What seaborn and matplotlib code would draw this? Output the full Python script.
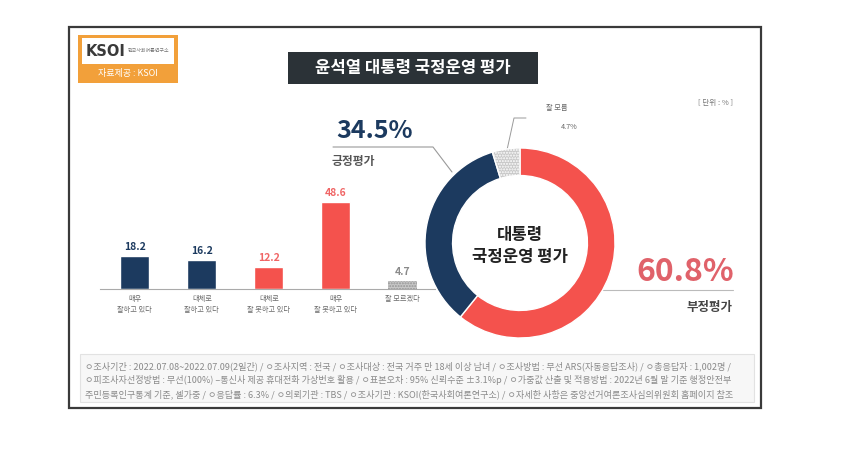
import matplotlib
matplotlib.use("Agg")
import matplotlib.pyplot as plt
import seaborn as sns
import pandas as pd
from matplotlib.patches import Rectangle

sns.set_theme(style="white")
plt.rcParams['font.family'] = ['Noto Sans CJK KR', 'DejaVu Sans']

# ---------------- data ----------------
bar_categories = ["매우\n잘하고 있다", "대체로\n잘하고 있다", "대체로\n잘 못하고 있다",
                  "매우\n잘 못하고 있다", "잘 모르겠다"]
bar_values = [18.2, 16.2, 12.2, 48.6, 4.7]

donut_labels = ["부정평가", "긍정평가", "잘 모름"]
donut_values = [60.8, 34.5, 4.7]

title = "윤석열 대통령 국정운영 평가"
center_text = "대통령\n국정운영 평가"
footnote_lines = [
    "ㅇ조사기간 : 2022.07.08~2022.07.09(2일간) / ㅇ조사지역 : 전국 / ㅇ조사대상 : 전국 거주 만 18세 이상 남녀 / ㅇ조사방법 : 무선 ARS(자동응답조사) / ㅇ총응답자 : 1,002명 /",
    "ㅇ피조사자선정방법 : 무선(100%) –통신사 제공 휴대전화 가상번호 활용 / ㅇ표본오차 : 95% 신뢰수준 ±3.1%p / ㅇ가중값 산출 및 적용방법 : 2022년 6월 말 기준 행정안전부",
    "주민등록인구통계 기준, 셀가중 / ㅇ응답률 : 6.3% / ㅇ의뢰기관 : TBS / ㅇ조사기관 : KSOI(한국사회여론연구소) / ㅇ자세한 사항은 중앙선거여론조사심의위원회 홈페이지 참조",
]

# ---------------- styles ----------------
NAVY = "#1C3A5F"
RED = "#F4524D"
GRAY = "#C8C8C8"
bar_colors = [NAVY, NAVY, RED, RED, GRAY]
value_colors = [NAVY, NAVY, "#F06565", "#F06565", "#8A8A8A"]
donut_colors = [RED, NAVY, GRAY]

W, H = 850, 451
fig = plt.figure(figsize=(W / 100, H / 100), dpi=100)
fig.patch.set_facecolor("white")
plt.rcParams['hatch.color'] = "#959595"


def fa(x0, y0, x1, y1):
    """pixel box (top-left origin) -> figure rect"""
    return [x0 / W, 1 - y1 / H, (x1 - x0) / W, (y1 - y0) / H]


# overlay axes in pixel coordinates
ov = fig.add_axes([0, 0, 1, 1], zorder=0)
ov.set_xlim(0, W)
ov.set_ylim(H, 0)
ov.axis("off")

# outer frame
ov.add_patch(Rectangle((69, 27), 692, 381, facecolor="white", edgecolor="#3A3A3A", lw=1.6))
# footnote box
ov.add_patch(Rectangle((80, 354), 674, 48, facecolor="#F7F7F7", edgecolor="#E2E2E2", lw=0.8))

# logo
ov.add_patch(Rectangle((78, 35), 100, 48, facecolor="#F2A03A", edgecolor="none"))
ov.add_patch(Rectangle((82, 38), 92, 26, facecolor="white", edgecolor="none"))
ov.text(86, 51, "KSOI", fontsize=10.5, fontweight="bold", color="#3A3A3A", ha="left", va="center",
        family=["DejaVu Sans"])
ov.text(128, 51, "한국사회여론연구소", fontsize=3.6, color="#777777", ha="left", va="center")
ov.text(128, 73.5, "자료제공 : KSOI", fontsize=6.5, color="white", ha="center", va="center")

# title box
ov.add_patch(Rectangle((288, 52), 250, 32, facecolor="#2B3237", edgecolor="none"))
ov.text(413, 68, title, fontsize=12, fontweight="bold", color="white", ha="center", va="center")

# unit
ov.text(733, 103, "[ 단위 : % ]", fontsize=5.5, color="#777777", ha="right", va="center")

# positive callout
ov.text(336, 131, f"{donut_values[1]}%", fontsize=18, fontweight="bold", color=NAVY,
        ha="left", va="center")
ov.text(332, 161, donut_labels[1], fontsize=8.5, fontweight="bold", color="#555555",
        ha="left", va="center")
ov.plot([333, 433, 452], [147, 147, 172], color="#9A9A9A", lw=0.8)

# unknown callout
ov.plot([507, 514, 526], [150, 118, 118], color="#9A9A9A", lw=0.7)
ov.text(546, 108, donut_labels[2], fontsize=5.2, color="#666666", ha="left", va="center")
ov.text(578, 127, f"{donut_values[2]}%", fontsize=5.2, color="#666666", ha="right", va="center")

# negative callout
ov.text(734, 272, f"{donut_values[0]}%", fontsize=23, fontweight="bold", color="#E0626A",
        ha="right", va="center")
ov.plot([603, 733], [290, 290], color="#BBBBBB", lw=0.8)
ov.text(733, 307, donut_labels[0], fontsize=9, fontweight="bold", color="#444444",
        ha="right", va="center")

# footnotes
for i, line in enumerate(footnote_lines):
    ov.text(85, 366 + i * 14, line, fontsize=6.55, color="#8A8A8A", ha="left", va="center")

# ---------------- bar chart ----------------
axb = fig.add_axes(fa(100, 190, 435, 289), zorder=2)
axb.patch.set_alpha(0)
df = pd.DataFrame({"cat": bar_categories, "val": bar_values})
sns.barplot(data=df, x="cat", y="val", hue="cat", palette=bar_colors, legend=False,
            width=0.43, ax=axb, saturation=1)
bar_patches = [p for p in axb.patches]
bar_patches[-1].set_hatch("......")
bar_patches[-1].set_edgecolor("#959595")
bar_patches[-1].set_linewidth(0)
axb.set_xlim(-0.52, 4.48)
axb.set_ylim(0, 55.3)
for i, v in enumerate(bar_values):
    axb.text(i, v + 2.2, f"{v}", ha="center", va="bottom", fontsize=7.5, fontweight="bold",
             color=value_colors[i])
for s in ["top", "right", "left"]:
    axb.spines[s].set_visible(False)
axb.spines["bottom"].set_color("#AAAAAA")
axb.spines["bottom"].set_linewidth(0.8)
axb.set_yticks([])
axb.set_xlabel("")
axb.set_ylabel("")
axb.set_xticks(range(len(bar_categories)))
axb.set_xticklabels(bar_categories, fontsize=5.2, color="#6A6A6A", linespacing=1.5)
axb.tick_params(axis="x", which="major", length=0, pad=4)
axb.set_xticks([-0.5, 0.5, 1.5, 2.5, 3.5], minor=True)
axb.tick_params(axis="x", which="minor", length=3, width=0.6, color="#888888", direction="out")

# ---------------- donut ----------------
axd = fig.add_axes(fa(425, 148, 615, 338), zorder=2)
wedges, _ = axd.pie(donut_values, colors=donut_colors, startangle=90, counterclock=False,
                    radius=1.0, wedgeprops=dict(width=0.29, edgecolor="white", linewidth=1.0))
wedges[2].set_hatch("......")
axd.set_xlim(-1, 1)
axd.set_ylim(-1, 1)
axd.set_aspect("equal")
axd.axis("off")
axd.text(0, -0.03, center_text, ha="center", va="center", fontsize=12, fontweight="bold",
         color="#222222", linespacing=1.3)

fig.savefig("out.png", dpi=100, facecolor="white")
